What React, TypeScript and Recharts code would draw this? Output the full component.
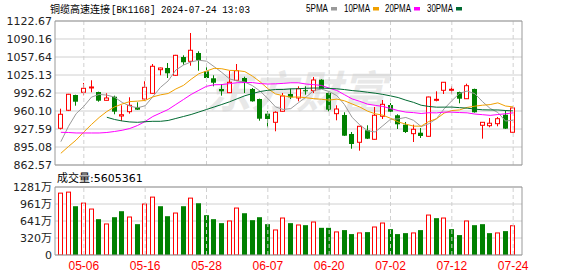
import { ComposedChart, Bar, Line, XAxis, YAxis, CartesianGrid, ReferenceLine } from 'recharts'

const dates = [
  '04-26', '04-29', '04-30', '05-06', '05-07', '05-08', '05-09', '05-10', '05-13', '05-14',
  '05-15', '05-16', '05-17', '05-20', '05-21', '05-22', '05-23', '05-24', '05-27', '05-28',
  '05-29', '05-30', '05-31', '06-03', '06-04', '06-05', '06-06', '06-07', '06-11', '06-12',
  '06-13', '06-14', '06-17', '06-18', '06-19', '06-20', '06-21', '06-24', '06-25', '06-26',
  '06-27', '06-28', '07-01', '07-02', '07-03', '07-04', '07-05', '07-08', '07-09', '07-10',
  '07-11', '07-12', '07-15', '07-16', '07-17', '07-18', '07-19', '07-22', '07-23', '07-24',
]

const opens = [
  928.9, 961.4, 989.0, 993.9, 1002.2, 994.4, 979.4, 985.9, 951.1, 958.9,
  967.4, 981.8, 992.1, 1034.7, 1037.8, 1024.6, 1057.6, 1049.9, 1064.9, 1031.8,
  1019.2, 999.9, 993.2, 1015.6, 1019.7, 999.9, 981.8, 955.3, 939.7, 959.6,
  990.8, 983.6, 997.6, 996.8, 1016.7, 992.6, 955.3, 952.9, 918.6, 903.6,
  925.3, 909.0, 950.6, 970.9, 952.4, 935.4, 919.2, 920.9, 914.4, 980.5,
  997.5, 998.6, 994.4, 982.3, 999.9, 934.3, 933.6, 937.2, 953.4, 921.7,
]
const highs = [
  964.3, 991.0, 989.5, 1010.7, 1015.6, 995.0, 992.1, 987.8, 970.4, 984.9,
  975.8, 1013.8, 1045.0, 1038.3, 1046.8, 1061.5, 1060.7, 1101.0, 1068.0, 1039.0,
  1024.6, 1008.9, 1032.9, 1045.0, 1022.0, 1001.6, 982.5, 959.6, 959.6, 992.6,
  1000.4, 1004.7, 1004.7, 1021.5, 1017.5, 993.5, 970.4, 957.8, 922.2, 933.0,
  934.3, 967.4, 980.0, 974.6, 954.2, 940.3, 935.4, 929.4, 986.0, 995.7,
  1012.5, 1004.7, 995.0, 1009.4, 1000.5, 940.2, 947.5, 949.3, 961.4, 966.0,
]
const lows = [
  926.7, 960.0, 969.7, 988.5, 993.9, 976.9, 979.0, 954.2, 942.1, 955.3,
  962.0, 980.5, 991.5, 1024.6, 1019.7, 1023.5, 1043.7, 1041.9, 1032.9, 1013.8,
  1004.7, 987.8, 992.5, 1015.0, 992.6, 977.0, 942.6, 930.7, 923.5, 959.0,
  981.8, 977.6, 989.6, 992.6, 1000.0, 959.6, 943.3, 915.0, 892.0, 888.4,
  909.5, 908.5, 945.7, 953.4, 927.6, 920.4, 904.1, 911.4, 913.8, 977.6,
  990.8, 991.4, 974.0, 981.8, 957.2, 910.1, 930.7, 932.5, 927.6, 921.2,
]
const closes = [
  954.2, 990.3, 976.9, 1001.1, 1003.5, 978.7, 983.6, 958.9, 953.4, 970.4,
  962.5, 1002.9, 1040.9, 1037.8, 1028.2, 1060.7, 1048.1, 1069.8, 1052.2, 1019.7,
  1011.2, 995.7, 1012.0, 1032.9, 1010.7, 977.6, 946.2, 945.7, 957.8, 987.2,
  984.9, 1000.4, 996.9, 1016.1, 1000.4, 962.5, 963.7, 915.5, 900.5, 932.5,
  910.1, 952.4, 972.2, 958.9, 936.1, 922.2, 927.1, 915.0, 985.4, 981.2,
  1012.0, 999.3, 982.3, 1005.8, 957.8, 939.7, 938.0, 946.2, 928.2, 965.6,
]

const ma5 = [
  904.7, 932.5, 955.3, 968.6, 985.2, 990.1, 988.8, 985.2, 975.6, 969.0,
  965.8, 969.6, 986.0, 1002.9, 1014.5, 1034.1, 1043.1, 1048.9, 1051.8, 1050.1,
  1040.2, 1029.7, 1018.2, 1014.3, 1012.5, 1005.8, 995.9, 982.6, 967.6, 962.9,
  964.4, 975.2, 985.4, 997.1, 999.7, 995.3, 987.9, 971.6, 948.5, 934.9,
  924.5, 922.2, 933.5, 945.2, 945.9, 948.4, 943.3, 931.9, 937.2, 946.2,
  964.1, 978.6, 992.0, 996.1, 991.4, 977.0, 964.7, 957.5, 942.0, 943.5,
]
const ma10 = [
  883.7, 896.0, 907.7, 922.2, 935.8, 948.4, 959.2, 967.4, 972.8, 977.1,
  977.9, 979.2, 985.6, 989.3, 991.7, 999.9, 1006.4, 1017.5, 1027.4, 1032.3,
  1037.2, 1036.4, 1033.5, 1033.1, 1031.3, 1023.0, 1012.8, 1000.4, 991.0, 987.7,
  985.1, 985.5, 984.0, 982.4, 981.3, 979.8, 981.6, 978.5, 972.8, 967.3,
  959.9, 955.1, 952.6, 946.9, 940.4, 936.4, 932.8, 932.7, 941.2, 946.1,
  956.3, 960.9, 962.0, 966.6, 968.8, 970.6, 971.7, 974.8, 969.1, 967.5,
]
const ma20 = [
  921.6, 921.3, 920.4, 920.4, 920.4, 920.4, 921.3, 923.1, 925.3, 928.5,
  933.9, 941.2, 950.2, 956.5, 962.8, 971.9, 980.9, 990.0, 997.5, 1004.7,
  1007.5, 1007.8, 1009.6, 1011.2, 1011.5, 1011.5, 1009.6, 1008.9, 1009.2, 1010.0,
  1011.1, 1011.0, 1008.8, 1007.7, 1006.3, 1001.4, 997.2, 989.5, 981.9, 977.5,
  972.5, 970.3, 968.3, 964.6, 960.9, 958.1, 957.2, 955.6, 957.0, 956.7,
  958.1, 958.0, 957.3, 956.8, 954.6, 953.5, 952.2, 953.7, 955.1, 956.8,
]
const ma30 = [
  null, null, null, null, null, null, 948.8, 944.8, 942.1, 940.3,
  939.7, 940.8, 941.5, 941.5, 943.0, 946.6, 950.2, 953.8, 958.3, 962.8,
  967.4, 971.9, 976.7, 982.2, 987.6, 991.7, 995.3, 997.5, 998.9, 999.0,
  1000.1, 1000.4, 1001.1, 1001.6, 1001.5, 1000.9, 1000.2, 998.8, 997.0, 995.8,
  994.0, 992.3, 990.1, 987.4, 984.4, 979.7, 975.7, 970.5, 968.3, 967.0,
  967.1, 967.2, 966.2, 965.3, 963.5, 962.3, 962.0, 962.0, 961.0, 960.3,
]

// volume in 万 shares, 1 = red (up) bar
const vols = [
  1175, 1194, 919, 987, 875, 675, 594, 712, 825, 725,
  581, 969, 1100, 919, 731, 800, 919, 1081, 975, 750,
  675, 600, 650, 894, 787, 656, 712, 581, 481, 706,
  600, 575, 562, 631, 512, 512, 444, 469, 394, 425,
  431, 537, 612, 487, 394, 412, 425, 469, 762, 694,
  706, 487, 375, 650, 562, 581, 412, 425, 450, 560.5,
]
const volUp = [
  1, 1, 0, 1, 1, 0, 1, 0, 0, 1,
  0, 1, 1, 0, 0, 1, 0, 1, 0, 0,
  0, 0, 1, 1, 0, 0, 0, 0, 1, 1,
  0, 1, 0, 1, 0, 0, 1, 0, 0, 1,
  0, 1, 1, 0, 0, 0, 1, 0, 1, 0,
  1, 0, 0, 1, 0, 0, 0, 1, 0, 1,
]

const labelDates = ['05-06', '05-16', '05-28', '06-07', '06-20', '07-02', '07-12', '07-24']
const priceTicks = [862.57, 895.08, 927.59, 960.1, 992.62, 1025.13, 1057.64, 1090.16, 1122.67]
const volTicks = [0, 320.25, 640.5, 960.75, 1281]
const volTickLabels = ['0', '320万', '641万', '961万', '1281万']

const legendItems = [
  { name: '5PMA', color: '#9a9a9a' },
  { name: '10PMA', color: '#f0a000' },
  { name: '20PMA', color: '#ff00ff' },
  { name: '30PMA', color: '#006a32' },
]

const UP = '#ff0000'
const DOWN = '#008000'
const FRAME = '#999999'
const GRID = '#d0d0d0'

const data = dates.map((date, i) => ({
  date,
  open: opens[i],
  high: highs[i],
  low: lows[i],
  close: closes[i],
  ma5: ma5[i],
  ma10: ma10[i],
  ma20: ma20[i],
  ma30: ma30[i],
  vol: vols[i],
  volUp: volUp[i] === 1,
}))

function Candle(props: any) {
  const { x, y, width, height, payload } = props
  if (x == null || y == null || !payload) return null
  const { open, close, high, low } = payload
  const up = close >= open
  const color = up ? UP : DOWN
  const top = Math.min(y, y + height)
  const h = Math.abs(height)
  const k = high > low ? h / (high - low) : 0
  const yOf = (v: number) => top + (high - v) * k
  const bTop = yOf(Math.max(open, close))
  const bBot = yOf(Math.min(open, close))
  const bx = Math.round(x)
  const bw = Math.round(width)
  const cx = bx + Math.floor(bw / 2) + 0.5
  const bh = Math.max(bBot - bTop, 1)
  return (
    <g>
      <line x1={cx} x2={cx} y1={top} y2={top + h} stroke={color} strokeWidth={1} />
      {up ? (
        <rect x={bx + 0.5} y={bTop} width={bw - 1} height={bh} fill="#fff" stroke={color} strokeWidth={1} />
      ) : (
        <rect x={bx} y={bTop} width={bw} height={bh} fill={color} />
      )}
    </g>
  )
}

function VolBar(props: any) {
  const { x, y, width, height, payload } = props
  if (x == null || y == null || !payload) return null
  const top = Math.min(y, y + height)
  const h = Math.abs(height)
  const bx = Math.round(x)
  const bw = Math.round(width)
  return payload.volUp ? (
    <rect x={bx + 0.5} y={top + 0.5} width={bw - 1} height={h - 0.5} fill="#fff" stroke={UP} strokeWidth={1} />
  ) : (
    <rect x={bx} y={top} width={bw} height={h} fill={DOWN} />
  )
}

const axisFont = { fontSize: 11, fill: '#222', fontFamily: 'DejaVu Sans, Noto Sans CJK SC' }

export default function App() {
  const legendX = [306, 344, 385, 427]
  const legendW = [22, 26, 26, 26]
  return (
    <div style={{ position: 'absolute', left: 0, top: 0, width: 578, height: 276, background: '#fff', overflow: 'hidden' }}>
      <svg width={578} height={276} style={{ position: 'absolute', left: 0, top: 0 }}>
        <text x={206} y={108} fontSize={44} fontWeight="bold" fontStyle="italic" fill="#e8e8e8"
          fontFamily="Noto Sans CJK SC" textLength={180} lengthAdjust="spacingAndGlyphs">东方财富</text>
      </svg>

      <div style={{ position: 'absolute', left: 0, top: 0 }}>
        <ComposedChart width={578} height={178} data={data} margin={{ top: 21, right: 55, bottom: 13, left: 0 }}>
          <CartesianGrid vertical={false} stroke={GRID} />
          <XAxis dataKey="date" hide padding={{ left: 2, right: 5 }} />
          <YAxis
            domain={[priceTicks[0], priceTicks[priceTicks.length - 1]]}
            ticks={priceTicks}
            interval={0}
            allowDataOverflow
            tickFormatter={(v) => Number(v).toFixed(2)}
            width={55}
            tickSize={0}
            tickMargin={3}
            tickLine={false}
            axisLine={{ stroke: FRAME }}
            tick={axisFont}
          />
          <YAxis yAxisId="frame" orientation="right" width={1} domain={[0, 1]} tick={false} tickLine={false} axisLine={{ stroke: FRAME }} />
          {labelDates.map((d) => (
            <ReferenceLine key={d} x={d} stroke={GRID} strokeDasharray="4 3" />
          ))}
          <ReferenceLine y={priceTicks[priceTicks.length - 1]} stroke={FRAME} />
          <ReferenceLine y={priceTicks[0]} stroke={FRAME} />
          <Bar dataKey={(d: any) => [d.low, d.high]} barSize={5} shape={<Candle />} isAnimationActive={false} />
          <Line type="linear" dataKey="ma5" stroke={legendItems[0].color} strokeWidth={1} dot={false} activeDot={false} isAnimationActive={false} />
          <Line type="linear" dataKey="ma10" stroke={legendItems[1].color} strokeWidth={1} dot={false} activeDot={false} isAnimationActive={false} />
          <Line type="linear" dataKey="ma20" stroke={legendItems[2].color} strokeWidth={1} dot={false} activeDot={false} isAnimationActive={false} />
          <Line type="linear" dataKey="ma30" stroke={legendItems[3].color} strokeWidth={1} dot={false} activeDot={false} isAnimationActive={false} />
        </ComposedChart>
      </div>

      <div style={{ position: 'absolute', left: 0, top: 170 }}>
        <ComposedChart width={578} height={106} data={data} margin={{ top: 17, right: 55, bottom: 0, left: 0 }}>
          <CartesianGrid vertical={false} stroke={GRID} />
          <XAxis
            dataKey="date"
            ticks={labelDates}
            interval={0}
            height={21}
            padding={{ left: 2, right: 5 }}
            tickLine={false}
            tickSize={0}
            tickMargin={6}
            axisLine={{ stroke: FRAME }}
            tick={{ fontSize: 12, fill: '#ff0000', fontFamily: 'Liberation Sans, Arial, sans-serif' }}
          />
          <YAxis
            domain={[volTicks[0], volTicks[volTicks.length - 1]]}
            ticks={volTicks}
            interval={0}
            allowDataOverflow
            tickFormatter={(v, i) => volTickLabels[i]}
            width={55}
            tickSize={0}
            tickMargin={3}
            tickLine={false}
            axisLine={{ stroke: FRAME }}
            tick={axisFont}
          />
          <YAxis yAxisId="frame" orientation="right" width={1} domain={[0, 1]} tick={false} tickLine={false} axisLine={{ stroke: FRAME }} />
          {labelDates.map((d) => (
            <ReferenceLine key={d} x={d} stroke={GRID} strokeDasharray="4 3" />
          ))}
          <ReferenceLine y={volTicks[volTicks.length - 1]} stroke={FRAME} />
          <Bar dataKey="vol" barSize={5} shape={<VolBar />} isAnimationActive={false} />
        </ComposedChart>
      </div>

      <svg width={578} height={276} style={{ position: 'absolute', left: 0, top: 0, pointerEvents: 'none' }}>
        <text x={50} y={12.5} fontSize={10.5} fill="#000" fontFamily="Noto Sans CJK SC" textLength={60} lengthAdjust="spacingAndGlyphs">铜缆高速连接</text>
        <text x={111} y={12.5} fontSize={10} fill="#000" fontFamily="Liberation Mono, DejaVu Sans Mono, monospace" textLength={139} lengthAdjust="spacingAndGlyphs">[BK1168] 2024-07-24 13:03</text>
        {legendItems.map((it, i) => (
          <g key={it.name}>
            <text x={legendX[i]} y={12.3} fontSize={10} fill="#000" fontFamily="Liberation Sans, Arial, sans-serif" textLength={legendW[i]} lengthAdjust="spacingAndGlyphs">{it.name}</text>
            <rect x={legendX[i] + legendW[i] + 3} y={7} width={6} height={3.5} fill={it.color} />
          </g>
        ))}
        <text x={57} y={181.5} fontSize={11} fill="#000" fontFamily="Noto Sans CJK SC">成交量</text>
        <text x={90} y={181.5} fontSize={11} fill="#000" fontFamily="DejaVu Sans, sans-serif">:5605361</text>
      </svg>
    </div>
  )
}
